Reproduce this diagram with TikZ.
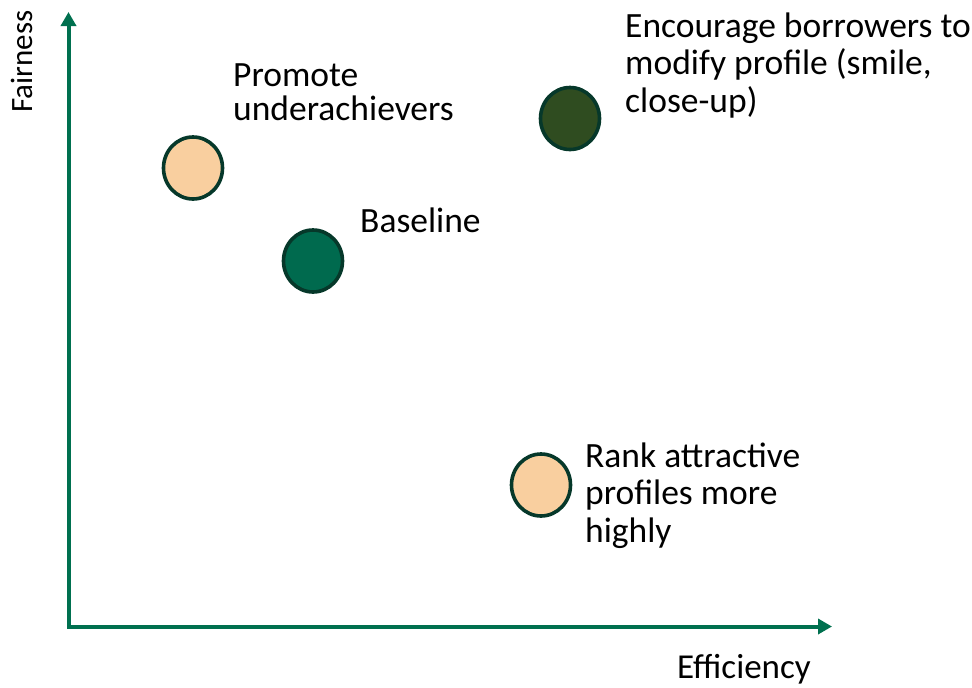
\documentclass[tikz,border=0pt]{standalone}
\usepackage{fontspec}
\setmainfont{Carlito}
\usetikzlibrary{arrows.meta,shapes.geometric}

\definecolor{axisgreen}{HTML}{00704F}
\definecolor{ringdark}{HTML}{06382A}
\definecolor{peach}{HTML}{F9CF9F}
\definecolor{basegreen}{HTML}{006A4E}
\definecolor{olivegreen}{HTML}{2F4C20}

\tikzset{
  axisline/.style={draw=axisgreen, line width=4pt, line join=miter,
    {Triangle[length=14pt,width=15pt]}-{Triangle[length=14pt,width=15pt]}},
  dot/.style={ellipse, draw=ringdark, line width=3.6pt, inner sep=0pt,
    minimum width=59pt, minimum height=62pt},
  % anchored at the baseline of the last line
  label/.style={inner sep=0pt, anchor=base west, align=left,
    font=\fontsize{35.5}{37.5}\selectfont, text=black},
}

\begin{document}
\begin{tikzpicture}[x=1pt,y=-1pt]
  \useasboundingbox (0,0) rectangle (972,688);

  % axes
  \coordinate (ytop) at (68.5,12);
  \coordinate (origin) at (68.5,626.5);
  \coordinate (xend) at (832,626.5);
  \draw[axisline] (ytop) -- (origin) -- (xend);

  \node[inner sep=0pt, anchor=base west, rotate=90,
        font=\fontsize{31}{37}\selectfont] (fair) at (32,113) {Fairness};
  \node[label, font=\fontsize{35}{37}\selectfont] (eff) at (677,678) {Efficiency};

  % strategies
  \node[dot, fill=peach] (promote) at (193,168) {};
  \node[dot, fill=basegreen] (baseline) at (313,261) {};
  \node[dot, fill=olivegreen] (encourage) at (570,118.5) {};
  \node[dot, fill=peach] (rank) at (541,485) {};

  \node[label, font=\fontsize{35.5}{34}\selectfont] (promotetext) at (233,120)
    {Promote\\underachievers};
  \node[label] (baselinetext) at (360,232) {Baseline};
  \node[label] (encouragetext) at (625,112)
    {Encourage borrowers to\\modify profile (smile,\\close-up)};
  \node[label] (ranktext) at (585,542)
    {Rank attractive\\profiles more\\highly};
\end{tikzpicture}
\end{document}
